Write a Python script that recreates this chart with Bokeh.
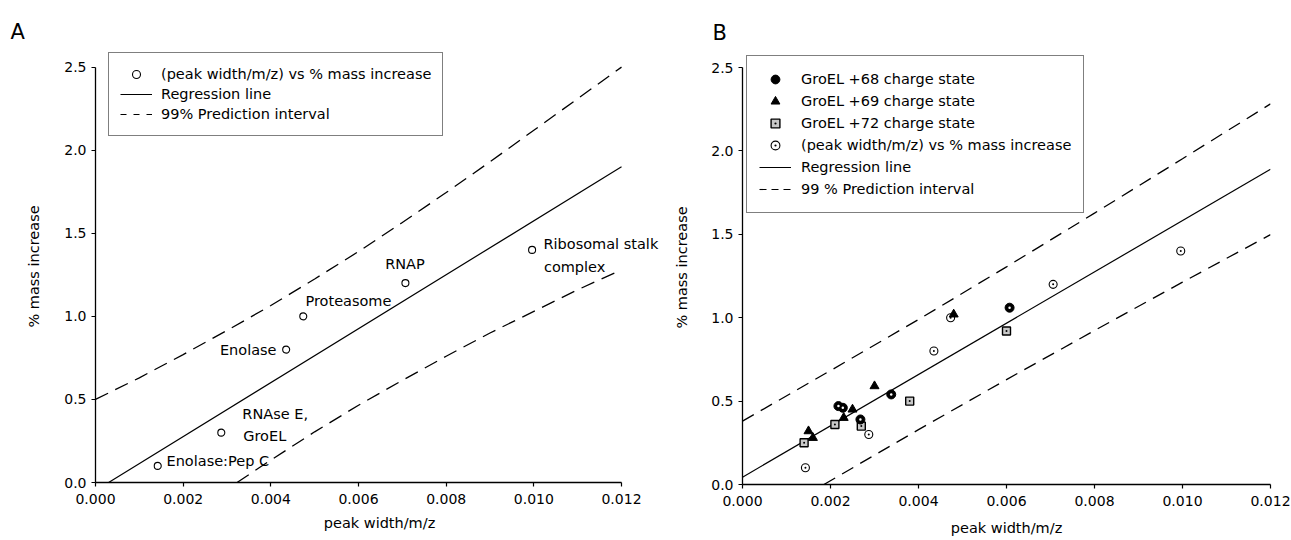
from bokeh.plotting import figure
from bokeh.layouts import row
from bokeh.models import (ColumnDataSource, Legend, LegendItem, LabelSet,
                          FixedTicker, NumeralTickFormatter, Range1d)
from bokeh.core.properties import value
from bokeh.embed import file_html
from bokeh.resources import INLINE

FONT = "DejaVu Sans"

# ---------------- data ----------------
x_ticks = [0.0, 0.002, 0.004, 0.006, 0.008, 0.010, 0.012]
y_ticks = [0.0, 0.5, 1.0, 1.5, 2.0, 2.5]

# Panel A
a_x = [0.00142, 0.00287, 0.00435, 0.00474, 0.00707, 0.00996]
a_y = [0.10, 0.30, 0.80, 1.00, 1.20, 1.40]
a_reg_x = [0.0003, 0.012]
a_reg_y = [0.0, 1.90]
a_up_x = [0.0, 0.001, 0.002, 0.003, 0.004, 0.005, 0.006, 0.007, 0.008, 0.009, 0.010, 0.011, 0.012]
a_up_y = [0.50, 0.63, 0.77, 0.915, 1.065, 1.225, 1.39, 1.565, 1.745, 1.93, 2.12, 2.31, 2.50]
a_lo_x = [0.00323, 0.004, 0.005, 0.006, 0.007, 0.008, 0.009, 0.010, 0.011, 0.012]
a_lo_y = [0.0, 0.135, 0.305, 0.465, 0.615, 0.76, 0.90, 1.03, 1.16, 1.28]

a_lab_left_text = ["Enolase:Pep C", "RNAse E,", "GroEL", "Proteasome", "Ribosomal stalk", "complex"]
a_lab_left_x = [0.00162, 0.00335, 0.00337, 0.00479, 0.01022, 0.01023]
a_lab_left_y = [0.13, 0.41, 0.28, 1.09, 1.435, 1.30]
a_lab_right_text = ["Enolase"]
a_lab_right_x = [0.00413]
a_lab_right_y = [0.80]
a_lab_center_text = ["RNAP"]
a_lab_center_x = [0.00706]
a_lab_center_y = [1.315]

# Panel B
b68_x = [0.00218, 0.00228, 0.00268, 0.00338, 0.00607]
b68_y = [0.47, 0.46, 0.39, 0.54, 1.06]
b69_x = [0.0015, 0.0016, 0.0023, 0.0025, 0.0030, 0.0048]
b69_y = [0.32, 0.28, 0.40, 0.45, 0.59, 1.02]
b72_x = [0.0014, 0.0021, 0.0027, 0.0038, 0.0060]
b72_y = [0.25, 0.36, 0.35, 0.50, 0.92]
bpw_x = [0.00143, 0.00287, 0.00435, 0.00473, 0.00706, 0.00996]
bpw_y = [0.10, 0.30, 0.80, 1.00, 1.20, 1.40]
b_reg_x = [0.0, 0.012]
b_reg_y = [0.044, 1.89]
b_up_x = [0.0, 0.002, 0.004, 0.006, 0.008, 0.010, 0.012]
b_up_y = [0.38, 0.683, 0.989, 1.305, 1.627, 1.953, 2.282]
b_lo_x = [0.00185, 0.004, 0.006, 0.008, 0.010, 0.012]
b_lo_y = [0.0, 0.329, 0.629, 0.923, 1.213, 1.498]

legend_a_labels = ["(peak width/m/z) vs % mass increase", "Regression line", "99% Prediction interval"]
legend_b_labels = ["GroEL +68 charge state", "GroEL +69 charge state", "GroEL +72 charge state",
                   "(peak width/m/z) vs % mass increase", "Regression line", "99 % Prediction interval"]


def make_fig(frame_w, frame_h, x_end, y_end, bl, br, bt, bb, panel, title_offset, title_standoff):
    p = figure(frame_width=frame_w, frame_height=frame_h,
               x_range=Range1d(0, x_end), y_range=Range1d(0, y_end),
               output_backend="svg", toolbar_location=None,
               min_border_left=bl, min_border_right=br, min_border_top=bt,
               min_border_bottom=bb, title=panel)
    p.title.text_font = FONT
    p.title.text_font_size = "21px"
    p.title.text_font_style = "normal"
    p.title.text_color = "black"
    p.title.align = "left"
    p.title.offset = title_offset
    p.title.standoff = title_standoff
    p.outline_line_color = None
    p.grid.visible = False
    p.xaxis.ticker = FixedTicker(ticks=x_ticks)
    p.yaxis.ticker = FixedTicker(ticks=y_ticks)
    p.xaxis.formatter = NumeralTickFormatter(format="0.000")
    p.yaxis.formatter = NumeralTickFormatter(format="0.0")
    p.xaxis.bounds = (x_ticks[0], x_ticks[-1])
    p.yaxis.bounds = (y_ticks[0], y_ticks[-1])
    for ax in (p.xaxis[0], p.yaxis[0]):
        ax.axis_line_color = "black"
        ax.axis_line_width = 1.3
        ax.major_tick_line_color = "black"
        ax.major_tick_line_width = 1.2
        ax.major_tick_in = 0
        ax.major_tick_out = 4
        ax.minor_tick_line_color = None
        ax.major_label_text_font = FONT
        ax.major_label_text_font_size = "14px"
        ax.major_label_text_color = "black"
        ax.axis_label_text_font = FONT
        ax.axis_label_text_font_size = "14.5px"
        ax.axis_label_text_font_style = "normal"
        ax.axis_label_text_color = "black"
    p.xaxis.major_label_standoff = 7
    p.yaxis.major_label_standoff = 5
    p.xaxis.axis_label = "peak width/m/z"
    p.yaxis.axis_label = "% mass increase"
    return p


def style_legend(lg, pad, lh, standoff):
    lg.border_line_color = "black"
    lg.border_line_width = 1.2
    lg.background_fill_color = "white"
    lg.background_fill_alpha = 1.0
    lg.label_text_font = FONT
    lg.label_text_font_size = "14.5px"
    lg.label_text_color = "black"
    lg.glyph_width = 32
    lg.glyph_height = lh
    lg.label_height = lh
    lg.label_standoff = standoff
    lg.padding = pad
    lg.spacing = 0
    lg.margin = 0


# ---------------- Panel A ----------------
pa = make_fig(568, 432, 0.012958, 2.6, 95, 0, 50, 56, "A", -85, 13)
pa.yaxis.axis_label_standoff = 19
pa.xaxis.axis_label_standoff = 8

ra_up = pa.line(a_up_x, a_up_y, line_color="black", line_width=1.3, line_dash="14 8")
ra_lo = pa.line(a_lo_x, a_lo_y, line_color="black", line_width=1.3, line_dash="14 8")
ra_reg = pa.line(a_reg_x, a_reg_y, line_color="black", line_width=1.2)
ra_pts = pa.scatter(a_x, a_y, marker="circle", size=7, fill_color="white",
                    line_color="black", line_width=1.1)
ra_dash_legend = pa.line(a_lo_x, a_lo_y, line_color="black", line_width=1.2,
                         line_dash="6 7", visible=False)

for txt, xs, ys, align in ((a_lab_left_text, a_lab_left_x, a_lab_left_y, "left"),
                           (a_lab_right_text, a_lab_right_x, a_lab_right_y, "right"),
                           (a_lab_center_text, a_lab_center_x, a_lab_center_y, "center")):
    src = ColumnDataSource(dict(x=xs, y=ys, t=txt))
    pa.add_layout(LabelSet(x="x", y="y", text="t", source=src, text_align=align,
                           text_baseline="middle", text_font=value(FONT),
                           text_font_size="14.5px", text_color="black"))

lga = Legend(items=[LegendItem(label=legend_a_labels[0], renderers=[ra_pts]),
                    LegendItem(label=legend_a_labels[1], renderers=[ra_reg]),
                    LegendItem(label=legend_a_labels[2], renderers=[ra_dash_legend])],
             location=(13, 346))
style_legend(lga, 11, 20, 9)
pa.add_layout(lga)

# ---------------- Panel B ----------------
pb = make_fig(528, 434, 0.012, 2.602, 79, 21, 50, 56, "B", -30, 12)
pb.yaxis.axis_label_standoff = 18
pb.xaxis.axis_label_standoff = 11

pb.line(b_up_x, b_up_y, line_color="black", line_width=1.3, line_dash="13 8")
pb.line(b_lo_x, b_lo_y, line_color="black", line_width=1.3, line_dash="13 8")
rb_reg = pb.line(b_reg_x, b_reg_y, line_color="black", line_width=1.2)
rb_pw = pb.scatter(bpw_x, bpw_y, marker="circle_dot", size=8, fill_color="white",
                   line_color="black", line_width=1.1)
rb72 = pb.scatter(b72_x, b72_y, marker="square_dot", size=8, fill_color="#c8c8c8",
                  line_color="black", line_width=1.4)
rb69 = pb.scatter(b69_x, b69_y, marker="triangle", size=9, fill_color="black",
                  line_color="black", line_width=1)
rb68 = pb.scatter(b68_x, b68_y, marker="circle", size=9, fill_color="black",
                  line_color="black", line_width=1)
pb.scatter(b68_x, b68_y, marker="circle", size=2.5, fill_color="white", line_color=None)
rb_dash_legend = pb.line(b_lo_x, b_lo_y, line_color="black", line_width=1.1,
                         line_dash="7 5", visible=False)

lgb = Legend(items=[LegendItem(label=legend_b_labels[0], renderers=[rb68]),
                    LegendItem(label=legend_b_labels[1], renderers=[rb69]),
                    LegendItem(label=legend_b_labels[2], renderers=[rb72]),
                    LegendItem(label=legend_b_labels[3], renderers=[rb_pw]),
                    LegendItem(label=legend_b_labels[4], renderers=[rb_reg]),
                    LegendItem(label=legend_b_labels[5], renderers=[rb_dash_legend])],
             location=(4, 271))
style_legend(lgb, 12, 22, 10)
pb.add_layout(lgb)

layout = row(pa, pb)
open("out.html", "w").write(file_html(layout, INLINE))
